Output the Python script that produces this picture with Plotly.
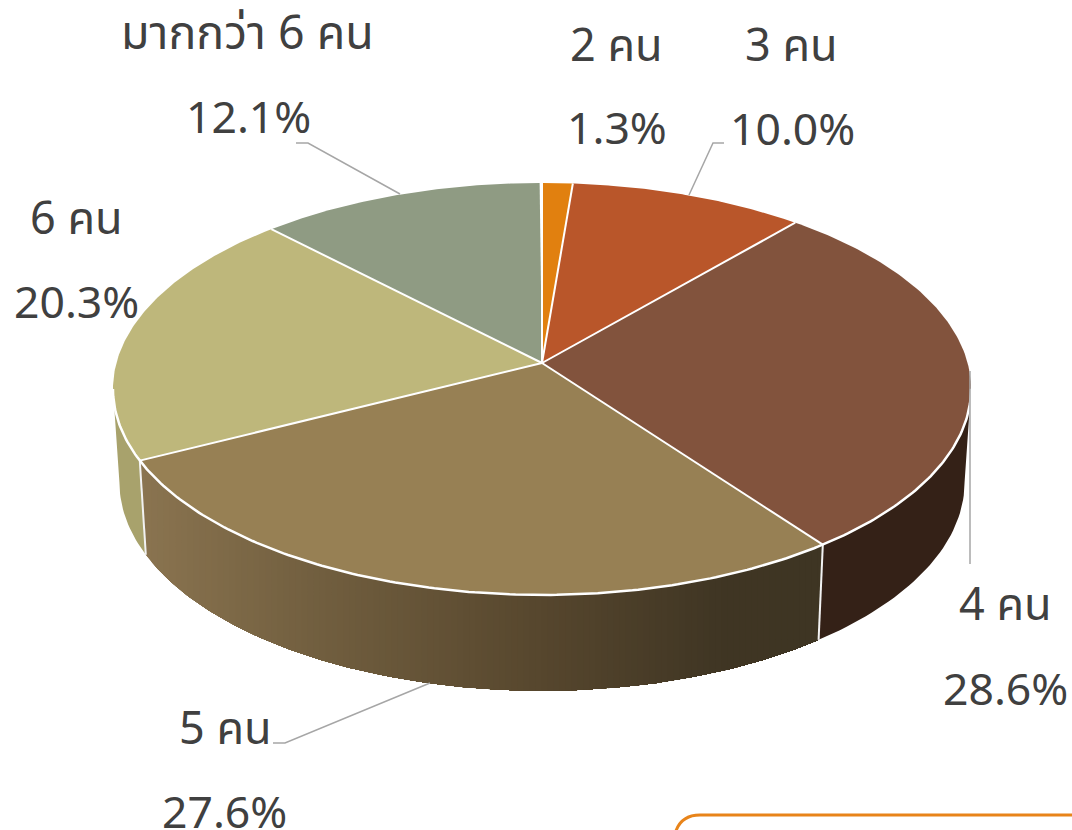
import numpy as np
import plotly.graph_objects as go

# Data
categories = ["2 คน", "3 คน", "4 คน", "5 คน", "6 คน", "มากกว่า 6 คน"]
shares = [1.3, 10.0, 28.6, 27.6, 20.3, 12.1]
share_labels = ["1.3%", "10.0%", "28.6%", "27.6%", "20.3%", "12.1%"]

# Styling
top_colors = ["#E1800F", "#B9562A", "#82533D", "#978054", "#BEB77B", "#8F9B83"]
FONT = "Noto Sans, Noto Sans Thai, DejaVu Sans, sans-serif"
TEXT = "#404040"
GRAY = "#A6A6A6"
label_pos = [(616, 43), (791, 43), (1005, 602), (225, 726), (76, 216), (247, 31)]
label_size = [45, 45, 45, 45, 45, 46.5]
value_pos = [(617, 126), (792, 127), (1005, 687), (224, 810), (76, 300), (248, 115)]
leaders = [
    ([296, 308, 400], [143, 143, 194]),
    ([724, 713, 689], [143, 143, 195]),
    ([970, 970], [371, 564]),
    ([430, 285, 273], [683, 743, 743]),
]

# Perspective projection of the disc
CX, CY, A, B, K = 542.0, 363.0, 425.6, 202.7, 0.126
DROP, SHRINK_X, SHRINK_Y = 93.0, 0.985, 1.012


def top(theta):
    t = np.radians(theta)
    X, Y = np.sin(t), np.cos(t)
    w = 1 + K * Y
    return CX + A * X / w, CY - B * Y / w


def bottom(theta):
    t = np.radians(theta)
    X, Y = np.sin(t), np.cos(t)
    w = 1 + K * Y
    return CX + SHRINK_X * A * X / w, CY + DROP - SHRINK_Y * B * Y / w


edges = np.concatenate([[0], np.cumsum(shares)]) * 3.6
T0 = float(np.degrees(np.arccos(-K)))
T1 = 360 - T0

fig = go.Figure()


def poly(x, y, color, line=0.0):
    fig.add_trace(go.Scatter(
        x=list(x), y=list(y), mode="lines", fill="toself", fillcolor=color,
        line=dict(color=color, width=line), hoverinfo="skip", showlegend=False))


def stroke(x, y, color="#FFFFFF", width=2.0):
    fig.add_trace(go.Scatter(
        x=list(x), y=list(y), mode="lines", line=dict(color=color, width=width),
        hoverinfo="skip", showlegend=False))


def lerp_color(px):
    stops = [(146, (0x8A, 0x74, 0x50)), (300, (0x74, 0x61, 0x41)),
             (540, (0x57, 0x47, 0x2E)), (720, (0x40, 0x36, 0x24)), (820, (0x3E, 0x35, 0x23))]
    xs = [s[0] for s in stops]
    rgb = [int(np.interp(px, xs, [s[1][c] for s in stops])) for c in range(3)]
    return "rgb(%d,%d,%d)" % tuple(rgb)


# side walls
th = np.linspace(T0, edges[3], 40)
tx, ty = top(th)
bx, by = bottom(th)
poly(np.r_[tx, bx[::-1]], np.r_[ty, by[::-1]], "#342117")

th = np.linspace(edges[4], T1, 20)
tx, ty = top(th)
bx, by = bottom(th)
poly(np.r_[tx, bx[::-1]], np.r_[ty, by[::-1]], "#A8A26C")

# gradient wall of the "5" slice: each band covers everything to its right,
# so later bands overpaint earlier ones and no seams show
th = np.linspace(edges[4], edges[3], 200)  # left to right
wtx, wty = top(th)
wbx, wby = bottom(th)
for xi in np.arange(wtx.min(), wtx.max(), 6.0):
    mt = wtx >= xi
    mb = wbx >= xi
    if mt.sum() < 1 or mb.sum() < 1:
        continue
    xs = np.r_[max(xi, wtx[0]), wtx[mt], wbx[mb][::-1], max(xi, wbx[0])]
    ys = np.r_[np.interp(xi, wtx, wty), wty[mt], wby[mb][::-1], np.interp(xi, wbx, wby)]
    poly(xs, ys, lerp_color(xi + 3))

# top face
for i, color in enumerate(top_colors):
    th = np.linspace(edges[i], edges[i + 1], 120)
    x, y = top(th)
    poly(np.r_[CX, x, CX], np.r_[CY, y, CY], color)

# wall separators
for e in (edges[3], edges[4]):
    tx, ty = top(np.array([e]))
    bx, by = bottom(np.array([e]))
    stroke([tx[0], bx[0]], [ty[0], by[0]], "#F2F2F2", 2.0)

# front rim
th = np.linspace(T0, T1, 240)
x, y = top(th)
stroke(x, y, "#FFFFFF", 2.5)

# radii
for e in edges[:-1]:
    x, y = top(np.array([e]))
    stroke([CX, x[0]], [CY, y[0]], "#FFFFFF", 2.0)

# leader lines
for lx, ly in leaders:
    stroke(lx, ly, GRAY, 1.5)

annotations = []
for name, value, lp, vp, ls in zip(categories, share_labels, label_pos, value_pos, label_size):
    for txt, (px, py), sz in ((name, lp, ls), (value, vp, 44.5)):
        annotations.append(dict(
            x=px, y=py, xref="x", yref="y", text=txt, showarrow=False,
            xanchor="center", yanchor="middle",
            font=dict(family=FONT, size=sz, color=TEXT)))

fig.update_layout(
    width=1072, height=830, margin=dict(l=0, r=0, t=0, b=0),
    paper_bgcolor="#FFFFFF", plot_bgcolor="#FFFFFF", showlegend=False,
    xaxis=dict(range=[0, 1072], visible=False, fixedrange=True),
    yaxis=dict(range=[830, 0], visible=False, fixedrange=True),
    annotations=annotations,
    shapes=[dict(type="path", xref="x", yref="y",
                 path="M 675 834 Q 680 815 700 815 L 1080 815",
                 line=dict(color="#E8841A", width=3), fillcolor="rgba(0,0,0,0)")],
)
fig.write_html("out.html", config=dict(displayModeBar=False),
               post_script="document.body.style.margin='0';document.body.style.overflow='hidden';")
